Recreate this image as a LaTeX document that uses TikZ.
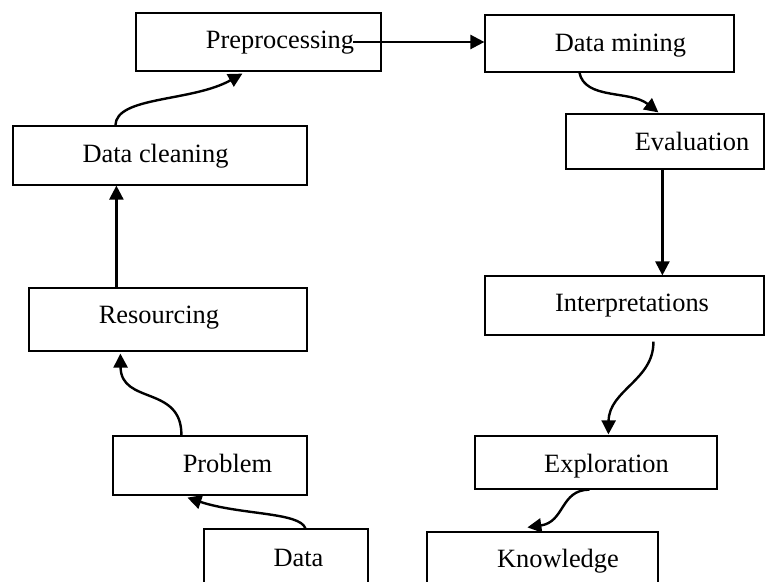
\documentclass[tikz,border=0pt]{standalone}
\usepackage{fontspec}
\setmainfont{Liberation Serif}
\usetikzlibrary{arrows.meta}
\tikzset{
  box/.style={draw=black, line width=0.6pt, rectangle, inner sep=0pt, fill=none},
  lbl/.style={anchor=base, inner sep=0pt, font=\fontsize{13.2}{15}\selectfont},
  conn/.style={draw=black, line width=1.2pt, -{Triangle[length=7pt,width=7pt]}}
}
\begin{document}
\begin{tikzpicture}[x=0.5pt,y=-0.5pt]
\useasboundingbox (0,0) rectangle (765,582);
\clip (0,0) rectangle (765,582);
% boxes
\node[box, minimum width=122.5pt, minimum height=29pt] (pre) at (258.5,42) {};
\node[box, minimum width=147pt, minimum height=29.5pt] (clean) at (160,155.5) {};
\node[box, minimum width=124.5pt, minimum height=28.5pt] (mining) at (609.5,43.5) {};
\node[box, minimum width=99pt, minimum height=27.5pt] (eval) at (665,141.5) {};
\node[box, minimum width=139.5pt, minimum height=29.5pt] (interp) at (624.5,305.5) {};
\node[box, minimum width=121pt, minimum height=26.5pt] (explo) at (596,462.5) {};
\node[box, minimum width=115.5pt, minimum height=34pt] (know) at (542.5,566) {};
\node[box, minimum width=139pt, minimum height=31.5pt] (res) at (168,319.5) {};
\node[box, minimum width=97pt, minimum height=29.5pt] (prob) at (210,465.5) {};
\node[box, minimum width=82pt, minimum height=35.5pt] (data) at (286,564.5) {};
% labels
\node[lbl] (tpre) at (280,49) {Preprocessing};
\node[lbl] (tclean) at (155.5,163) {Data cleaning};
\node[lbl] (tmining) at (620.5,52) {Data mining};
\node[lbl] (teval) at (692,151) {Evaluation};
\node[lbl] (tinterp) at (632,312) {Interpretations};
\node[lbl] (texplo) at (606.5,472) {Exploration};
\node[lbl] (tknow) at (558,567) {Knowledge};
\node[lbl] (tres) at (159,324) {Resourcing};
\node[lbl] (tprob) at (227.5,472) {Problem};
\node[lbl] (tdata) at (298.5,566) {Data};
% connectors
\coordinate (s2) at ([xshift=109pt]pre.west);
\draw[conn] ([xshift=51.5pt]clean.north west) .. controls (116,96) and (192,102) .. ([xshift=53.5pt,yshift=-1pt]pre.south west);
\draw[conn] (s2) -- (s2 -| mining.west);
\draw[conn] ([xshift=47.5pt]mining.south west) .. controls (585,100) and (630,90) .. ([xshift=46.5pt,yshift=0.5pt]eval.north west);
\coordinate (s4) at ([xshift=48.5pt]eval.south west);
\draw[conn] (s4) -- (s4 |- interp.north);
\draw[conn] ([xshift=84.5pt,yshift=-3pt]interp.south west) .. controls (654,380) and (609,390) .. ([xshift=67pt,yshift=0.5pt]explo.north west);
\draw[conn] ([xshift=57.5pt]explo.south west) .. controls (560,490) and (565,522) .. ([xshift=50.5pt,yshift=2pt]know.north west);
\coordinate (s7) at ([xshift=44pt]res.north west);
\draw[conn] (s7) -- (s7 |- clean.south);
\draw[conn] ([xshift=34.5pt]prob.north west) .. controls (182,385) and (121,405) .. ([xshift=46pt,yshift=-1pt]res.south west);
\draw[conn] ([xshift=51pt]data.north west) .. controls (300,512) and (240,515) .. ([xshift=37.5pt,yshift=-1pt]prob.south west);
\end{tikzpicture}
\end{document}
